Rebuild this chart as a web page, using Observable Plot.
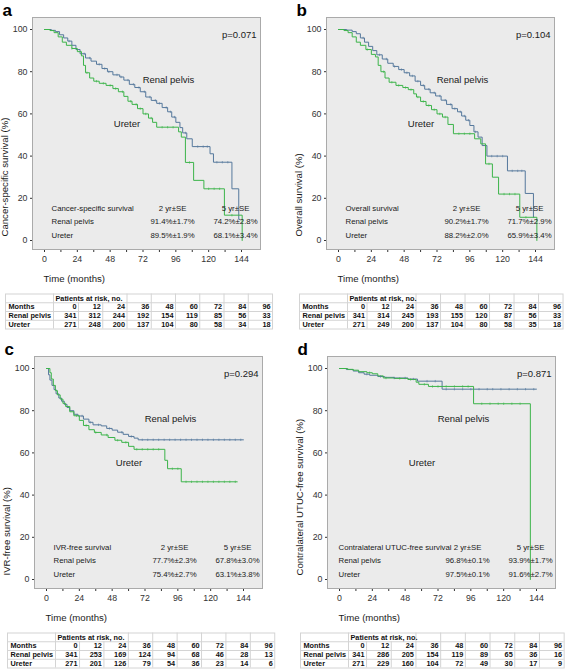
<!DOCTYPE html>
<html><head><meta charset="utf-8">
<script src="https://cdn.jsdelivr.net/npm/d3@7"></script>
<script src="https://cdn.jsdelivr.net/npm/@observablehq/plot@0.6"></script>
<style>
body{margin:0;background:#fff;overflow:hidden}
#root{position:relative;width:567px;height:671px;overflow:hidden;background:#fff}
.panel{position:absolute;width:283px;height:335px}
.panel svg{display:block;position:absolute;left:0;max-width:none}
</style></head><body><div id="root"></div>
<script>
const FONT = '"Liberation Sans", Arial, Helvetica, sans-serif';
const groups = ["Renal pelvis", "Ureter"];
const groupColors = ["#55789c", "#3cb44a"];
const riskMonths = [0, 12, 24, 36, 48, 60, 72, 84, 96];
const xTickValues = [0, 12, 24, 36, 48, 60, 72, 84, 96, 108, 120, 132, 144];
const yTickValues = [0, 20, 40, 60, 80, 100];
const statHeaders = ["2 yr±SE", "5 yr±SE"];

// ---- panel a: cancer-specific survival
const aTitle = "Cancer-specific survival";
const aYLabel = "Cancer-specific survival (%)";
const aP = "p=0.071";
const aRenalStats = ["91.4%±1.7%", "74.2%±2.8%"];
const aUreterStats = ["89.5%±1.9%", "68.1%±3.4%"];
const aRiskRenal = [341, 312, 244, 192, 154, 119, 85, 56, 33];
const aRiskUreter = [271, 248, 200, 137, 104, 80, 58, 34, 18];
const aRenalTime = [0,5,8,11,14,17,20,23,26,30,34,38,42,46,50,55,58,62,66,70,74,78,82,86,90,93,96,99,101,104,108,121,123.5,137,142,143];
const aRenalSurv = [100,99.6,99,97.5,96,94.5,92.5,90.5,88.5,86.5,85,83.5,81.5,80,78.5,77.5,76,74,72.5,70.5,68,66.4,65,63,61,58.5,56,53.5,51,48.2,44.5,41.1,37.1,24.5,10,10];
const aUreterTime = [0,4,7,10,13,16,20,24,27,28.5,30,33,36,40,45,50,54,58,61,64,68,72,76,79,82,98,100,103,109,116.5,131.5,144.5];
const aUreterSurv = [100,99.5,98.5,96.5,94,92.5,91,89.5,87.5,83,79.5,77,75.5,74.5,73.5,72,70.5,68.3,66,64.5,62.5,60,58,56,53.7,51.5,49,37,28.5,24.5,12,0];
const aRenalCensor = [18,29,33,40,44,47,53,56,61,65,69,73,77,81,84,89,92,95,103,112,116,119,126,130,134];
const aUreterCensor = [20,31,38,43,48,52,57,63,67,70,74,78,86,90,94,106,120,124,128,137];

// ---- panel b: overall survival
const bTitle = "Overall survival";
const bYLabel = "Overall survival (%)";
const bP = "p=0.104";
const bRenalStats = ["90.2%±1.7%", "71.7%±2.9%"];
const bUreterStats = ["88.2%±2.0%", "65.9%±3.4%"];
const bRiskRenal = [341, 314, 245, 193, 155, 120, 87, 56, 33];
const bRiskUreter = [271, 249, 200, 137, 104, 80, 58, 35, 18];
const bRenalTime = [0,6,10,13,16,19,22,25,28,32,36,40,44,48,52,56,60,63,67,71,75,79,83,87,90,93,96,99,102,105,108.5,123.5,136.5,142.5,143];
const bRenalSurv = [100,99.7,99,98,96,94,92,90,88,86,84,82.5,81,79.5,78,75.5,73.5,71.7,70,68.5,66.5,64.5,62.5,61,59,57,54.5,51.5,49,45,40,33,22.3,11,11];
const bUreterTime = [0,4,7,10,13,16,20,24,27,29,31,34,37,42,47,51,55,57,60,64,68,72,76,80,84,99.5,104,107.5,112.5,117,132.5,145];
const bUreterSurv = [100,99.5,98.5,96.5,94,92.5,90.5,88.2,87,83,80,77,75,73.5,72.5,71.5,69.5,68,65.9,64,62,60,58.5,55,50.6,48.2,45.8,36.3,30,22,11,0];
const bRenalCensor = [18,30,35,41,46,50,54,58,62,66,70,74,78,82,85,89,92,95,100,112,116,120,127,131,134];
const bUreterCensor = [21,33,39,44,49,53,58,62,66,70,74,78,88,92,96,110,121,125,129,137];

// ---- panel c: IVR-free survival
const cTitle = "IVR-free survival";
const cYLabel = "IVR-free survival (%)";
const cP = "p=0.294";
const cRenalStats = ["77.7%±2.3%", "67.8%±3.0%"];
const cUreterStats = ["75.4%±2.7%", "63.1%±3.8%"];
const cRiskRenal = [341, 253, 169, 124, 94, 68, 46, 28, 13];
const cRiskUreter = [271, 201, 126, 79, 54, 36, 23, 14, 6];
const cRenalTime = [0,1.5,2.5,4,5.5,7,9,11,13,15,17,20,23,27,31,34,40,44,48,52,56,60,64,67,144];
const cRenalSurv = [100,97,94.5,92,90,88,86,84.5,83,81.5,80,78.3,77.5,76,74.5,73.3,72.8,71.6,70.8,69.8,68.8,67.8,67,66.2,66.2];
const cUreterTime = [0,2.5,3.5,5,6.5,8,10,12,14,17,20,24,27,31,35,40,45,50,55,60,64,86.5,88.5,98.5,139.5];
const cUreterSurv = [100,98,95,92,89.5,87.5,85.5,83.5,82,79.5,77.6,75.4,73,71,69.7,68.5,67.3,66,65,63.1,61.7,56.5,52.5,46.3,46.3];
const cRenalCensor = [26,32,38,46,55,62,70,74,78,82,86,90,94,98,102,106,110,114,118,122,126,130,134,138,142];
const cUreterCensor = [22,29,36,44,52,58,66,70,74,78,82,92,96,102,106,110,114,118,122,126,130,134,138];

// ---- panel d: contralateral UTUC-free survival
const dTitle = "Contralateral UTUC-free survival";
const dYLabel = "Contralateral UTUC-free survival (%)";
const dP = "p=0.871";
const dRenalStats = ["96.8%±0.1%", "93.9%±1.7%"];
const dUreterStats = ["97.5%±0.1%", "91.6%±2.7%"];
const dRiskRenal = [341, 286, 205, 154, 119, 89, 65, 36, 16];
const dRiskUreter = [271, 229, 160, 104, 72, 49, 30, 17, 9];
const dRenalTime = [0,5,10,14,18,22,28,33,40,50,57,75,144];
const dRenalSurv = [100,99.5,98.8,98,97.3,96.8,96.2,95.8,95.5,95,94,90.2,90.2];
const dUreterTime = [0,6,10,14,20,24,28,32,40,50,56,58,65,98,139.5];
const dUreterSurv = [100,99.6,99.2,98.5,98,97.5,96.5,95.5,95.3,94.8,93.5,92.5,91.5,83.3,0];
const dRenalCensor = [20,30,40,48,54,64,70,78,84,90,96,102,108,112,118,124,130,136,142];
const dUreterCensor = [22,34,44,52,62,68,72,78,84,90,94,104,110,116,120,126,132];

// ---------- layout (pixels, relative to each panel)
const panels = [
  {letter:"a", left:0,   top:0,   title:aTitle, ylabel:aYLabel, p:aP, stats:[aRenalStats,aUreterStats], risk:[aRiskRenal,aRiskUreter],
   curves:[[aRenalTime,aRenalSurv,aRenalCensor],[aUreterTime,aUreterSurv,aUreterCensor]], tZero:76, tStep:24.25, titleX:51},
  {letter:"b", left:294, top:0,   title:bTitle, ylabel:bYLabel, p:bP, stats:[bRenalStats,bUreterStats], risk:[bRiskRenal,bRiskUreter],
   curves:[[bRenalTime,bRenalSurv,bRenalCensor],[bUreterTime,bUreterSurv,bUreterCensor]], tZero:70.5, tStep:24.5, titleX:51},
  {letter:"c", left:2,   top:339, title:cTitle, ylabel:cYLabel, p:cP, stats:[cRenalStats,cUreterStats], risk:[cRiskRenal,cRiskUreter],
   curves:[[cRenalTime,cRenalSurv,cRenalCensor],[cUreterTime,cUreterSurv,cUreterCensor]], tZero:75, tStep:24.4, titleX:51},
  {letter:"d", left:295, top:339, title:dTitle, ylabel:dYLabel, p:dP, stats:[dRenalStats,dUreterStats], risk:[dRiskRenal,dRiskUreter],
   curves:[[dRenalTime,dRenalSurv,dRenalCensor],[dUreterTime,dUreterSurv,dUreterCensor]], tZero:69, tStep:24.7, titleX:43}
];

const FL = 32, FT = 17, FR = 260, FB = 249;   // frame edges in the chart svg
const W = 283, H = 290;
// x: month 0 -> 44px, 144 -> 241px ; y: 100 -> 29px, 0 -> 240px
const kx = (241 - 44) / 144, ky = (240 - 29) / 100;
const xDomain = [(FL - 44) / kx, (FR - 44) / kx];
const yDomain = [-(FB - 240) / ky, 100 + (29 - FT) / ky];

function stepAt(ts, ss, t) {
  let v = ss[0];
  for (let i = 0; i < ts.length; i++) if (ts[i] <= t) v = ss[i];
  return v;
}
const vbar = {draw(ctx, size) { const h = Math.sqrt(size / Math.PI); ctx.moveTo(0, -h); ctx.lineTo(0, h); }};

function rel(x, y) { return {frameAnchor: "top-left", dx: x - FL, dy: y - FT}; }

function chart(p) {
  const lines = [], cens = [];
  p.curves.forEach(([ts, ss, cs], gi) => {
    ts.forEach((t, i) => lines.push({t, s: ss[i], g: groups[gi]}));
    cs.forEach(t => cens.push({t, s: stepAt(ts, ss, t), g: groups[gi]}));
  });
  const txt = {fontFamily: FONT, fill: "#1a1a1a"};
  const statRows = [
    {label: p.title, a: statHeaders[0], b: statHeaders[1], y: 204.5},
    {label: groups[0], a: p.stats[0][0], b: p.stats[0][1], y: 218},
    {label: groups[1], a: p.stats[1][0], b: p.stats[1][1], y: 231.5}
  ];
  const marks = [
    Plot.frame({fill: "#ebebeb", stroke: "#aaaaaa"}),
    Plot.line(lines, {x: "t", y: "s", z: "g", stroke: "g", curve: "step-after", strokeWidth: 1}),
    Plot.dot(cens, {x: "t", y: "s", stroke: "g", symbol: vbar, r: 1.2, strokeWidth: 0.6}),
    Plot.text([p.p], {...rel(256, 31), textAnchor: "end", fontSize: 9.5, ...txt}),
    Plot.text([groups[0]], {...rel(168, 75.5), textAnchor: "middle", fontSize: 9.5, ...txt}),
    Plot.text([groups[1]], {...rel(126.5, 119.5), textAnchor: "middle", fontSize: 9.5, ...txt}),
    Plot.text([p.ylabel], {frameAnchor: "bottom-left", dx: 7 - FL, dy: 236 - FB, rotate: -90, textAnchor: "start", fontSize: 9.6, ...txt}),
    Plot.text(["Time (months)"], {frameAnchor: "bottom-left", dx: 43 - FL, dy: 281 - FB, textAnchor: "start", fontSize: 9.6, ...txt}),
    Plot.text([p.letter], {frameAnchor: "top-left", dx: 2 - FL, dy: 15 - FT, textAnchor: "start", lineAnchor: "bottom", fontSize: 17, fontWeight: "bold", fontFamily: FONT, fill: "#000"})
  ];
  statRows.forEach(r => {
    marks.push(Plot.text([r.label], {...rel(p.titleX, r.y), textAnchor: "start", fontSize: 7.8, ...txt}));
    marks.push(Plot.text([r.a], {...rel(172, r.y), textAnchor: "middle", fontSize: 7.8, ...txt}));
    marks.push(Plot.text([r.b], {...rel(235, r.y), textAnchor: "middle", fontSize: 7.8, ...txt}));
  });
  return Plot.plot({
    width: W, height: H,
    marginLeft: FL, marginRight: W - FR, marginTop: FT, marginBottom: H - FB,
    style: {fontFamily: FONT, fontSize: "8.8px", color: "#333", background: "transparent", maxWidth: "none", overflow: "visible"},
    x: {domain: xDomain, ticks: xTickValues, tickFormat: d => d % 24 === 0 ? String(d) : "", tickSize: 3, tickPadding: 3, label: null},
    y: {domain: yDomain, ticks: yTickValues, tickSize: 2, tickPadding: 3, label: null},
    color: {domain: groups, range: groupColors},
    marks
  });
}

function table(p) {
  const k = p.tStep / 12;
  const left = 5, right = p.tZero + 97 * k;
  const domain = [(left - p.tZero) / k, 97];
  const labelEdge = (53 - p.tZero) / k;
  const cells = [];
  riskMonths.forEach((m, i) => {
    cells.push({x: m, row: 1, v: String(m)});
    cells.push({x: m, row: 2, v: String(p.risk[0][i])});
    cells.push({x: m, row: 3, v: String(p.risk[1][i])});
  });
  const rowLabels = [{row: 1, v: "Months"}, {row: 2, v: groups[0]}, {row: 3, v: groups[1]}];
  const vlines = [{x: labelEdge, y1: 0, y2: 4}];
  riskMonths.slice(0, -1).forEach(m => vlines.push({x: m + 1, y1: m >= 24 ? 0 : 1, y2: 4}));
  const grid = "#d4d4d4";
  const tt = {fontFamily: FONT, fontWeight: "bold", fontSize: 7.3, fill: "#111"};
  return Plot.plot({
    width: W, height: 45,
    marginLeft: left, marginRight: W - right, marginTop: 5.5, marginBottom: 4.5,
    style: {fontFamily: FONT, background: "transparent", maxWidth: "none", overflow: "visible"},
    x: {domain, axis: null},
    y: {domain: [0, 4], reverse: true, axis: null},
    marks: [
      Plot.ruleY([1, 2, 3], {stroke: grid}),
      Plot.ruleX(vlines, {x: "x", y1: "y1", y2: "y2", stroke: grid}),
      Plot.frame({stroke: grid}),
      Plot.text([{row: 0, v: "Patients at risk, no."}], {y: d => d.row + 0.5, text: "v", frameAnchor: "left", dx: 55 - left, textAnchor: "start", ...tt}),
      Plot.text(rowLabels, {y: d => d.row + 0.5, text: "v", frameAnchor: "left", dx: 3, textAnchor: "start", ...tt}),
      Plot.text(cells, {x: "x", y: d => d.row + 0.5, text: "v", textAnchor: "end", ...tt})
    ]
  });
}

const root = document.getElementById("root");
panels.forEach(p => {
  const div = document.createElement("div");
  div.className = "panel";
  div.style.left = p.left + "px";
  div.style.top = p.top + "px";
  const c = chart(p);
  c.style.top = "0px";
  const t = table(p);
  t.style.top = "287.5px";
  div.appendChild(c);
  div.appendChild(t);
  root.appendChild(div);
});
</script>
</body></html>
